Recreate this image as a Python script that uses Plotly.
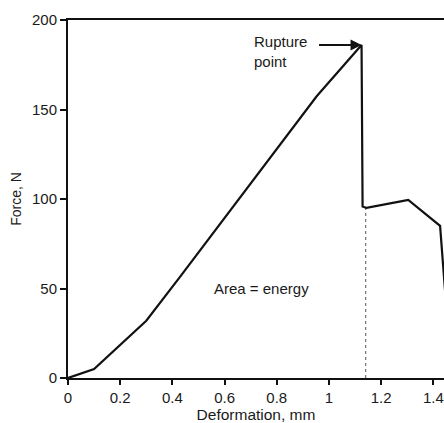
import plotly.graph_objects as go

# Force-deformation curve
deformation_mm = [0.0, 0.10, 0.30, 0.43, 0.953, 1.125, 1.129, 1.144, 1.27, 1.304, 1.426, 1.439, 1.46]
force_n = [0.0, 5.0, 32.0, 56.6, 157.4, 186.0, 95.8, 95.0, 98.5, 99.5, 85.0, 60.3, 20.0]

rupture_x = 1.125
rupture_y = 186.0
dotted_x = 1.141
dotted_y = 95.0

x_ticks = [0, 0.2, 0.4, 0.6, 0.8, 1.0, 1.2, 1.4]
x_tick_labels = ["0", "0.2", "0.4", "0.6", "0.8", "1", "1.2", "1.4"]
y_ticks = [0, 50, 100, 150, 200]

FONT = "Liberation Sans, Arial, sans-serif"
INK = "#1a1a1a"

fig = go.Figure()
fig.add_trace(go.Scatter(
    x=[dotted_x, dotted_x], y=[0, dotted_y], mode="lines",
    line=dict(color="#555555", width=1, dash="dot"), hoverinfo="skip", showlegend=False))
fig.add_trace(go.Scatter(
    x=deformation_mm, y=force_n, mode="lines",
    line=dict(color="#111111", width=2.2), showlegend=False))

fig.add_annotation(x=rupture_x, y=rupture_y, xref="x", yref="y", text="",
                   showarrow=True, ax=-44, ay=0, arrowhead=2, arrowsize=1.1,
                   arrowwidth=2, arrowcolor="#111111")
fig.add_annotation(x=0.705, y=194, xref="x", yref="y", text="Rupture<br>point",
                   showarrow=False, xanchor="left", yanchor="top", align="left",
                   font=dict(family=FONT, size=15, color=INK))
fig.add_annotation(x=0.743, y=50, xref="x", yref="y", text="Area = energy",
                   showarrow=False, font=dict(family=FONT, size=15, color=INK))

fig.update_layout(
    width=444, height=423,
    margin=dict(l=68, r=0, t=20, b=45),
    paper_bgcolor="white", plot_bgcolor="white",
    font=dict(family=FONT, size=15, color=INK),
    xaxis=dict(range=[0, 1.441], tickmode="array", tickvals=x_ticks, ticktext=x_tick_labels,
               automargin=False,
               showgrid=False, zeroline=False, showline=True, linecolor="#111111", linewidth=2,
               mirror=True, ticks="outside", ticklen=5, tickwidth=2, tickcolor="#111111",
               tickfont=dict(size=15),
               title=dict(text="Deformation, mm", standoff=2, font=dict(size=15.5))),
    yaxis=dict(range=[0, 200], tickmode="array", tickvals=y_ticks,
               automargin=False,
               showgrid=False, zeroline=False, showline=True, linecolor="#111111", linewidth=2,
               ticks="outside", ticklen=6, tickwidth=2, tickcolor="#111111",
               tickfont=dict(size=15),
               title=dict(text="Force, N", standoff=7, font=dict(size=14))),
)

fig.write_html("out.html", config={"displayModeBar": False},
               post_script="document.body.style.margin='0';document.body.style.overflow='hidden';")
